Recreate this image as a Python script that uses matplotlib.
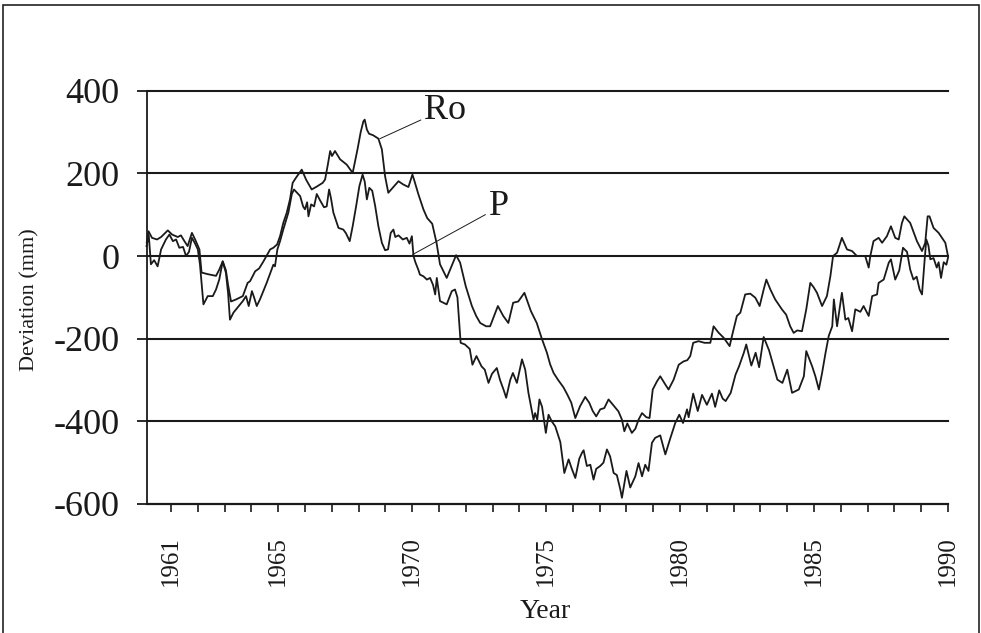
import matplotlib
matplotlib.use("Agg")
import matplotlib.pyplot as plt
from matplotlib.patches import Rectangle
from matplotlib.ticker import FixedLocator, FuncFormatter

plt.rcParams['font.family'] = ['Liberation Serif', 'DejaVu Serif']
plt.rcParams['axes.unicode_minus'] = False

# ---------------- data ----------------
ro_year = [1960.093, 1960.16, 1960.29, 1960.48, 1960.63, 1960.88, 1961.04, 1961.25, 1961.37, 1961.50,
           1961.62, 1961.78, 1961.90, 1962.06, 1962.14, 1962.38, 1962.68, 1962.80, 1962.93, 1963.05,
           1963.13, 1963.24, 1963.43, 1963.68, 1963.86, 1963.95, 1964.14, 1964.29, 1964.45, 1964.70,
           1964.82, 1964.96, 1965.07, 1965.19, 1965.32, 1965.44, 1965.54, 1965.67, 1965.88, 1966.04,
           1966.25, 1966.44, 1966.66, 1966.75, 1966.85, 1966.94, 1967.01, 1967.12, 1967.31, 1967.56,
           1967.78, 1967.96, 1968.08, 1968.18, 1968.23, 1968.31, 1968.39, 1968.55, 1968.74, 1968.87,
           1968.99, 1969.11, 1969.30, 1969.49, 1969.67, 1969.86, 1970.01, 1970.07, 1970.23, 1970.42,
           1970.56, 1970.75, 1970.91, 1971.04, 1971.29, 1971.48, 1971.64, 1971.79, 1972.00, 1972.23,
           1972.39, 1972.54, 1972.76, 1972.91, 1973.06, 1973.20, 1973.40, 1973.59, 1973.77, 1973.96,
           1974.19, 1974.43, 1974.65, 1974.84, 1975.03, 1975.15, 1975.28, 1975.45, 1975.65, 1975.79,
           1975.94, 1976.09, 1976.27, 1976.46, 1976.61, 1976.74, 1976.87, 1977.02, 1977.17, 1977.33,
           1977.52, 1977.70, 1977.83, 1977.92, 1978.03, 1978.20, 1978.33, 1978.45, 1978.58, 1978.74,
           1978.86, 1978.98, 1979.14, 1979.26, 1979.45, 1979.57, 1979.76, 1979.95, 1980.13, 1980.27,
           1980.38, 1980.49, 1980.69, 1980.91, 1981.13, 1981.25, 1981.43, 1981.63, 1981.85, 1981.95,
           1982.12, 1982.25, 1982.43, 1982.62, 1982.81, 1982.97, 1983.12, 1983.22, 1983.37, 1983.55,
           1983.80, 1983.96, 1984.11, 1984.24, 1984.37, 1984.55, 1984.71, 1984.86, 1984.98, 1985.11,
           1985.30, 1985.48, 1985.61, 1985.71, 1985.86, 1986.04, 1986.23, 1986.42, 1986.60, 1986.91,
           1987.04, 1987.10, 1987.22, 1987.41, 1987.54, 1987.72, 1987.87, 1988.03, 1988.16, 1988.28,
           1988.37, 1988.59, 1988.84, 1989.03, 1989.15, 1989.24, 1989.31, 1989.46, 1989.65, 1989.90,
           1990.00]
ro_dev = [33, 60, 44, 40, 46, 62, 52, 46, 50, 36,
          24, 56, 40, 16, -40, -44, -48, -33, -13, -35,
          -70, -110, -105, -97, -65, -61, -37, -30, -13, 16,
          20, 28, 48, 80, 105, 137, 177, 190, 209, 185,
          161, 168, 177, 185, 220, 254, 242, 254, 234, 221,
          201, 258, 300, 326, 330, 306, 296, 292, 284, 258,
          193, 153, 167, 181, 173, 167, 197, 185, 150, 113,
          92, 78, 32, -20, -53, -23, 2, -16, -73, -121,
          -145, -162, -170, -170, -145, -121, -145, -162, -113, -110,
          -89, -133, -162, -200, -234, -262, -283, -300, -318, -335,
          -355, -392, -363, -341, -355, -375, -388, -371, -368, -347,
          -362, -376, -396, -424, -405, -428, -418, -396, -380, -390,
          -392, -323, -303, -291, -311, -323, -299, -263, -255, -252,
          -242, -210, -206, -210, -210, -170, -185, -198, -218, -190,
          -145, -137, -93, -91, -101, -121, -81, -57, -81, -105,
          -129, -142, -170, -186, -180, -182, -129, -65, -75, -89,
          -121, -97, -49, 0, 8, 44, 16, 12, 0, 0,
          -28, 0, 36, 44, 32, 48, 72, 44, 40, 80,
          96, 80, 36, 12, 32, 96, 96, 68, 56, 32,
          0]

p_year = [1960.085, 1960.17, 1960.25, 1960.37, 1960.50, 1960.63, 1960.81, 1960.94, 1961.07, 1961.19,
          1961.31, 1961.45, 1961.56, 1961.67, 1961.78, 1961.90, 1962.00, 1962.08, 1962.16, 1962.21,
          1962.37, 1962.56, 1962.68, 1962.80, 1962.93, 1963.05, 1963.13, 1963.20, 1963.33, 1963.53,
          1963.68, 1963.80, 1963.90, 1964.02, 1964.10, 1964.20, 1964.32, 1964.57, 1964.82, 1964.88,
          1964.97, 1965.07, 1965.19, 1965.38, 1965.51, 1965.59, 1965.82, 1965.93, 1966.00, 1966.08,
          1966.13, 1966.23, 1966.34, 1966.44, 1966.56, 1966.71, 1966.81, 1966.90, 1966.97, 1967.06,
          1967.25, 1967.43, 1967.53, 1967.67, 1967.78, 1967.91, 1968.03, 1968.15, 1968.23, 1968.31,
          1968.40, 1968.51, 1968.62, 1968.74, 1968.87, 1968.99, 1969.10, 1969.20, 1969.30, 1969.37,
          1969.49, 1969.65, 1969.80, 1969.90, 1969.99, 1970.05, 1970.12, 1970.23, 1970.29, 1970.42,
          1970.55, 1970.67, 1970.78, 1970.86, 1970.92, 1971.04, 1971.29, 1971.48, 1971.60, 1971.69,
          1971.81, 1971.97, 1972.15, 1972.25, 1972.40, 1972.59, 1972.71, 1972.85, 1972.98, 1973.16,
          1973.28, 1973.41, 1973.51, 1973.66, 1973.76, 1973.91, 1974.10, 1974.22, 1974.34, 1974.53,
          1974.59, 1974.67, 1974.75, 1974.85, 1974.99, 1975.09, 1975.21, 1975.34, 1975.53, 1975.68,
          1975.84, 1975.96, 1976.09, 1976.24, 1976.34, 1976.40, 1976.52, 1976.65, 1976.77, 1976.87,
          1977.02, 1977.14, 1977.27, 1977.39, 1977.52, 1977.64, 1977.77, 1977.83, 1978.00, 1978.14,
          1978.33, 1978.45, 1978.58, 1978.70, 1978.82, 1978.95, 1979.07, 1979.26, 1979.45, 1979.63,
          1979.82, 1979.97, 1980.11, 1980.26, 1980.32, 1980.49, 1980.66, 1980.82, 1981.00, 1981.19,
          1981.31, 1981.46, 1981.59, 1981.70, 1981.89, 1982.07, 1982.20, 1982.38, 1982.47, 1982.66,
          1982.82, 1982.95, 1983.12, 1983.32, 1983.46, 1983.63, 1983.82, 1984.00, 1984.18, 1984.43,
          1984.62, 1984.71, 1984.93, 1985.05, 1985.18, 1985.30, 1985.43, 1985.55, 1985.68, 1985.74,
          1985.86, 1986.04, 1986.17, 1986.28, 1986.42, 1986.54, 1986.73, 1986.85, 1987.04, 1987.17,
          1987.35, 1987.41, 1987.60, 1987.79, 1987.87, 1988.03, 1988.18, 1988.32, 1988.47, 1988.59,
          1988.71, 1988.83, 1988.94, 1989.03, 1989.12, 1989.19, 1989.27, 1989.34, 1989.46, 1989.58,
          1989.65, 1989.74, 1989.84, 1989.94, 1990.00]
p_dev = [24, 50, -20, -10, -25, 16, 40, 52, 36, 40,
         20, 22, 0, 10, 44, 30, 16, -20, -81, -117,
         -97, -97, -81, -57, -13, -41, -90, -154, -137, -121,
         -109, -97, -121, -85, -100, -121, -105, -65, -21, -25,
         16, 36, 64, 105, 150, 161, 145, 120, 113, 130,
         96, 125, 120, 150, 135, 118, 120, 161, 140, 105,
         68, 64, 55, 36, 72, 121, 169, 197, 180, 137,
         165, 158, 121, 72, 32, 14, 16, 56, 64, 46,
         50, 40, 44, 30, 48, 0, -15, -33, -45, -49,
         -57, -53, -70, -93, -53, -109, -117, -85, -81, -100,
         -210, -214, -225, -263, -242, -267, -275, -307, -285, -271,
         -300, -323, -343, -300, -283, -307, -250, -275, -331, -396,
         -380, -396, -347, -365, -428, -384, -400, -412, -450, -525,
         -492, -515, -537, -490, -476, -470, -508, -505, -541, -515,
         -508, -500, -468, -485, -525, -530, -565, -585, -520, -560,
         -533, -501, -533, -505, -520, -452, -440, -434, -480, -442,
         -404, -384, -404, -371, -390, -333, -375, -336, -360, -333,
         -365, -325, -345, -351, -331, -287, -267, -234, -214, -265,
         -234, -269, -196, -228, -260, -299, -307, -275, -331, -323,
         -291, -230, -267, -291, -323, -283, -234, -193, -170, -105,
         -170, -89, -154, -150, -182, -129, -135, -121, -145, -97,
         -93, -65, -57, -16, -8, -57, -35, 20, 10, -33,
         -57, -50, -81, -93, -16, 40, 25, -8, -5, -28,
         -15, -53, -15, -21, -4]

tick_years = list(range(1961, 1991))
labeled_years = [1961, 1965, 1970, 1975, 1980, 1985, 1990]
y_ticks = [-600, -400, -200, 0, 200, 400]
grid_levels = [-400, -200, 0, 200, 400]

# ---------------- figure ----------------
W, H = 981, 633
fig = plt.figure(figsize=(W / 100, H / 100), dpi=100)
fig.patch.set_facecolor('white')

# outer frame
fig.add_artist(Rectangle((3 / W, -0.01), (979 - 3) / W, 1 - 5 / H + 0.01,
                         transform=fig.transFigure, fill=False,
                         edgecolor='#222222', linewidth=1.2))

ax = fig.add_axes([146.5 / W, 1 - 504 / H, (948 - 146.5) / W, (504 - 90.7) / H])
ax.set_xlim(1960.085, 1990.0)
ax.set_ylim(-600, 400)

for lvl in grid_levels:
    ax.axhline(lvl, color='#1a1a1a', linewidth=1.5, zorder=1, clip_on=False)

ax.plot(ro_year, ro_dev, color='#1a1a1a', linewidth=1.3, zorder=3, clip_on=False)
ax.plot(p_year, p_dev, color='#1a1a1a', linewidth=1.3, zorder=3, clip_on=False)

# spines
for s in ['top', 'right']:
    ax.spines[s].set_visible(False)
ax.spines['left'].set_linewidth(1.3)
ax.spines['left'].set_color('#1a1a1a')
ax.spines['bottom'].set_linewidth(1.6)
ax.spines['bottom'].set_color('#1a1a1a')

ax.yaxis.set_major_locator(FixedLocator(y_ticks))
ax.set_yticklabels([str(v) for v in y_ticks])
ax.tick_params(axis='y', direction='out', length=7.2, width=1.3, pad=12,
               labelsize=26, colors='#1a1a1a')

ax.xaxis.set_major_locator(FixedLocator(tick_years))
ax.xaxis.set_major_formatter(FuncFormatter(
    lambda v, pos: str(int(round(v))) if int(round(v)) in labeled_years else ''))
ax.tick_params(axis='x', direction='out', length=6, width=1.2, pad=17,
               labelsize=18, colors='#1a1a1a', labelrotation=90)

# series labels with pointer lines
ax.plot([1968.80, 1970.32], [284, 329], color='#1a1a1a', linewidth=0.7, zorder=4)
ax.text(1970.46, 352, 'Ro', fontsize=26, ha='left', va='center', color='#1a1a1a')
ax.plot([1970.03, 1972.73], [4, 100], color='#1a1a1a', linewidth=0.7, zorder=4)
ax.text(1972.85, 120, 'P', fontsize=26, ha='left', va='center', color='#1a1a1a')

fig.text(30 / W, 1 - 300 / H, 'Deviation (mm)', rotation=90, ha='center', va='center',
         fontsize=16, color='#1a1a1a')
fig.text(545 / W, 1 - 612 / H, 'Year', ha='center', va='center',
         fontsize=20, color='#1a1a1a')

fig.savefig('out.png', dpi=100, facecolor='white')
